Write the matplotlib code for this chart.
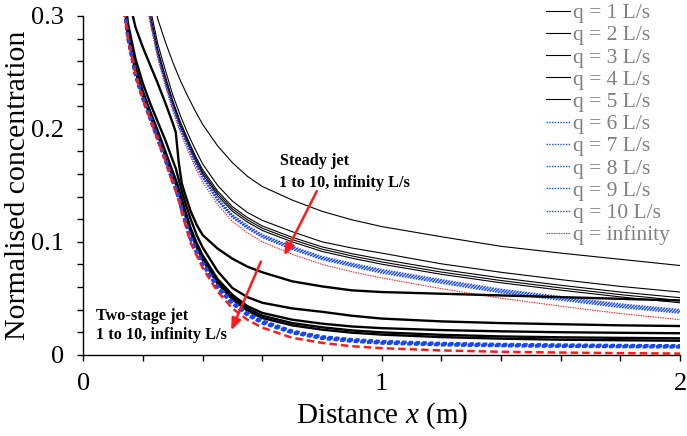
import matplotlib
matplotlib.use("Agg")
import matplotlib.pyplot as plt
from matplotlib.ticker import MultipleLocator, FixedLocator, FixedFormatter

plt.rcParams['font.family'] = ['Liberation Serif', 'DejaVu Serif']
plt.rcParams['mathtext.fontset'] = 'custom'
plt.rcParams['mathtext.rm'] = 'Liberation Serif'
plt.rcParams['mathtext.it'] = 'Liberation Serif:italic'

# ---------------- data ----------------
# Steady jet (thin lines)
x_steady = [0.15, 0.175, 0.2, 0.225, 0.25, 0.275, 0.3, 0.325, 0.35, 0.375, 0.4, 0.45,
            0.5, 0.55, 0.6, 0.7, 0.8, 0.9, 1.0, 1.2, 1.4, 1.6, 1.8, 2.0]
steady_q1 = [0.545, 0.44, 0.37, 0.325, 0.297, 0.277, 0.259, 0.243, 0.229, 0.216, 0.204, 0.185,
             0.170, 0.158, 0.149, 0.137, 0.127, 0.1195, 0.1135, 0.1045, 0.096, 0.090, 0.0845, 0.079]
steady_q2 = [0.53, 0.421, 0.347, 0.306, 0.275, 0.252, 0.230, 0.212, 0.196, 0.182, 0.169, 0.150,
             0.136, 0.126, 0.119, 0.109, 0.100, 0.0945, 0.090, 0.0805, 0.073, 0.0665, 0.0605, 0.0555]
steady_q3 = [0.526, 0.4165, 0.342, 0.3005, 0.270, 0.2465, 0.225, 0.2065, 0.191, 0.1765, 0.164, 0.145,
             0.131, 0.1215, 0.114, 0.104, 0.0955, 0.0895, 0.0845, 0.0755, 0.068, 0.0615, 0.0555, 0.0505]
steady_q4 = [0.524, 0.4145, 0.340, 0.2985, 0.268, 0.2445, 0.223, 0.2045, 0.189, 0.1745, 0.162, 0.143,
             0.129, 0.1195, 0.112, 0.102, 0.0935, 0.0875, 0.0822, 0.0732, 0.0657, 0.0592, 0.0532, 0.048]
steady_q5 = [0.522, 0.4125, 0.338, 0.2965, 0.266, 0.2425, 0.221, 0.2025, 0.187, 0.1725, 0.160, 0.141,
             0.127, 0.1175, 0.110, 0.100, 0.0915, 0.0855, 0.0802, 0.0712, 0.0637, 0.0572, 0.0512, 0.046]
steady_q6 = [0.523, 0.413, 0.3385, 0.2965, 0.266, 0.242, 0.2205, 0.2015, 0.186, 0.171, 0.1585, 0.139,
             0.124, 0.1145, 0.1065, 0.096, 0.087, 0.081, 0.0755, 0.0665, 0.058, 0.0515, 0.045, 0.040]
steady_q7 = [0.5225, 0.4125, 0.338, 0.296, 0.2655, 0.2415, 0.220, 0.201, 0.1855, 0.1705, 0.158, 0.1383,
             0.1233, 0.1138, 0.1058, 0.0953, 0.0863, 0.0803, 0.0747, 0.0657, 0.0572, 0.0507, 0.0442, 0.0392]
steady_q8 = [0.522, 0.412, 0.3375, 0.2955, 0.265, 0.241, 0.2195, 0.2005, 0.185, 0.170, 0.1575, 0.1376,
             0.1226, 0.1131, 0.1051, 0.0946, 0.0856, 0.0796, 0.0739, 0.0649, 0.0564, 0.0499, 0.0434, 0.0384]
steady_q9 = [0.5215, 0.4115, 0.337, 0.295, 0.2645, 0.2405, 0.219, 0.200, 0.1845, 0.1695, 0.157, 0.1369,
             0.1219, 0.1124, 0.1044, 0.0939, 0.0849, 0.0789, 0.0731, 0.0641, 0.0556, 0.0491, 0.0426, 0.0376]
steady_q10 = [0.521, 0.411, 0.3365, 0.2945, 0.264, 0.240, 0.2185, 0.1995, 0.184, 0.169, 0.1565, 0.1362,
              0.1212, 0.1117, 0.1037, 0.0932, 0.0842, 0.0782, 0.0723, 0.0633, 0.0548, 0.0483, 0.0418, 0.0368]
steady_inf = [0.52, 0.41, 0.335, 0.293, 0.262, 0.238, 0.216, 0.197, 0.181, 0.166, 0.153, 0.133,
              0.118, 0.108, 0.100, 0.089, 0.080, 0.0735, 0.068, 0.0585, 0.050, 0.043, 0.0365, 0.031]

# Two-stage jet (thick lines)
x_two = [0.1, 0.125, 0.15, 0.175, 0.2, 0.225, 0.25, 0.275, 0.3, 0.31, 0.32, 0.33, 0.34, 0.36, 0.38,
         0.4, 0.45, 0.5, 0.55, 0.6, 0.7, 0.8, 0.9, 1.0, 1.2, 1.4, 1.6, 1.8, 2.0]
two_q1 = [0.45, 0.37, 0.318, 0.29, 0.272, 0.256, 0.24, 0.223, 0.205, 0.197, 0.17, 0.152, 0.143, 0.127, 0.115,
          0.106, 0.094, 0.085, 0.078, 0.073, 0.065, 0.0605, 0.057, 0.0555, 0.054, 0.0525, 0.051, 0.0495, 0.048]
two_q2 = [0.44, 0.35, 0.293, 0.262, 0.24, 0.222, 0.206, 0.19, 0.172, 0.165, 0.155, 0.145, 0.136, 0.12, 0.106,
          0.095, 0.074, 0.059, 0.051, 0.046, 0.041, 0.038, 0.0345, 0.032, 0.0295, 0.028, 0.027, 0.026, 0.0254]
two_q3 = [0.435, 0.34, 0.287, 0.255, 0.233, 0.215, 0.198, 0.18, 0.162, 0.155, 0.147, 0.138, 0.129, 0.112, 0.099,
          0.088, 0.067, 0.053, 0.043, 0.037, 0.031, 0.0275, 0.025, 0.0235, 0.0218, 0.0207, 0.0199, 0.0194, 0.019]
two_q4 = [0.433, 0.338, 0.285, 0.253, 0.231, 0.213, 0.196, 0.178, 0.16, 0.153, 0.145, 0.136, 0.127, 0.11, 0.097,
          0.086, 0.065, 0.051, 0.041, 0.0345, 0.028, 0.0243, 0.0215, 0.0198, 0.0176, 0.0162, 0.0154, 0.0149, 0.0145]
two_q5 = [0.431, 0.336, 0.283, 0.251, 0.229, 0.211, 0.194, 0.176, 0.158, 0.151, 0.143, 0.134, 0.125, 0.108, 0.095,
          0.084, 0.063, 0.049, 0.039, 0.0325, 0.026, 0.0222, 0.0195, 0.0178, 0.0156, 0.0142, 0.0133, 0.0128, 0.0124]
two_q6 = [0.428, 0.334, 0.281, 0.249, 0.228, 0.210, 0.192, 0.174, 0.155, 0.148, 0.140, 0.130, 0.121, 0.104, 0.092,
          0.082, 0.061, 0.047, 0.037, 0.030, 0.021, 0.016, 0.0135, 0.0118, 0.0101, 0.0092, 0.0087, 0.0083, 0.0080]
two_q7 = [0.427, 0.333, 0.2805, 0.2485, 0.2275, 0.2095, 0.1915, 0.1735, 0.1545, 0.1475, 0.1395, 0.1295, 0.1205,
          0.1035, 0.0915, 0.0815, 0.0605, 0.0465, 0.0365, 0.0295, 0.0206, 0.0156, 0.0131, 0.0114, 0.0097, 0.0088,
          0.0083, 0.0079, 0.0077]
two_q8 = [0.426, 0.332, 0.280, 0.248, 0.227, 0.209, 0.191, 0.173, 0.154, 0.147, 0.139, 0.129, 0.120, 0.103, 0.091,
          0.081, 0.060, 0.046, 0.036, 0.029, 0.0202, 0.0152, 0.0127, 0.0110, 0.0093, 0.0085, 0.0080, 0.0076, 0.0074]
two_q9 = [0.425, 0.331, 0.2795, 0.2475, 0.2265, 0.2085, 0.1905, 0.1725, 0.1535, 0.1465, 0.1385, 0.1285, 0.1195,
          0.1025, 0.0905, 0.0805, 0.0595, 0.0455, 0.0355, 0.0285, 0.0198, 0.0148, 0.0123, 0.0106, 0.0090, 0.0082,
          0.0077, 0.0073, 0.0071]
two_q10 = [0.424, 0.330, 0.279, 0.247, 0.226, 0.208, 0.190, 0.172, 0.153, 0.146, 0.138, 0.128, 0.119, 0.102, 0.090,
           0.080, 0.059, 0.045, 0.035, 0.028, 0.0194, 0.0144, 0.0119, 0.0102, 0.0087, 0.0079, 0.0074, 0.0070, 0.0068]
two_inf = [0.42, 0.33, 0.28, 0.248, 0.226, 0.208, 0.19, 0.172, 0.152, 0.145, 0.137, 0.126, 0.117, 0.099, 0.088,
           0.077, 0.056, 0.041, 0.031, 0.024, 0.015, 0.0105, 0.0075, 0.0058, 0.0038, 0.0026, 0.0019, 0.0014, 0.001]

legend_labels = ["q = 1 L/s", "q = 2 L/s", "q = 3 L/s", "q = 4 L/s", "q = 5 L/s",
                 "q = 6 L/s", "q = 7 L/s", "q = 8 L/s", "q = 9 L/s", "q = 10 L/s", "q = infinity"]
x_ticks = [0, 1, 2]
x_ticklabels = ["0", "1", "2"]
y_ticks = [0, 0.1, 0.2, 0.3]
y_ticklabels = ["0", "0.1", "0.2", "0.3"]

# ---------------- styles ----------------
BLACK = "#000000"
BLUE = "#1446FF"
RED = "#FF1A1A"

fig = plt.figure(figsize=(6.87, 4.36), dpi=100)
ax = fig.add_axes([83.3 / 687, 1 - 354.7 / 436, (680 - 83.3) / 687, (354.7 - 16) / 436])

steady_black = [steady_q1, steady_q2, steady_q3, steady_q4, steady_q5]
steady_blue = [steady_q6, steady_q7, steady_q8, steady_q9, steady_q10]
two_black = [two_q1, two_q2, two_q3, two_q4, two_q5]
two_blue = [two_q6, two_q7, two_q8, two_q9, two_q10]

handles = []
for ys in steady_black:
    h, = ax.plot(x_steady, ys, color=BLACK, lw=0.8, solid_joinstyle='round')
    handles.append(h)
for ys in steady_blue:
    h, = ax.plot(x_steady, ys, color=BLUE, lw=1.0, linestyle=(0, (1, 1)))
    handles.append(h)
h, = ax.plot(x_steady, steady_inf, color=RED, lw=0.8, linestyle=(0, (1.2, 1)))
handles.append(h)

for ys in two_black:
    ax.plot(x_two, ys, color=BLACK, lw=1.7, solid_joinstyle='round')
for ys in two_blue:
    ax.plot(x_two, ys, color=BLUE, lw=2.2, linestyle=(0, (1.3, 0.9)))
ax.plot(x_two, two_inf, color=RED, lw=1.8, linestyle=(0, (3, 1.6)))

ax.set_xlim(0, 2)
ax.set_ylim(0, 0.3)
for s in ["top", "right"]:
    ax.spines[s].set_visible(False)
for s in ["left", "bottom"]:
    ax.spines[s].set_linewidth(1.0)

ax.xaxis.set_major_locator(FixedLocator(x_ticks))
ax.xaxis.set_major_formatter(FixedFormatter(x_ticklabels))
ax.xaxis.set_minor_locator(MultipleLocator(0.2))
ax.yaxis.set_major_locator(FixedLocator(y_ticks))
ax.yaxis.set_major_formatter(FixedFormatter(y_ticklabels))
ax.yaxis.set_minor_locator(MultipleLocator(0.02))
ax.tick_params(which='both', direction='out', length=4, width=1.0, labelsize=19, colors='black')
ax.tick_params(axis='x', pad=9)
ax.tick_params(axis='y', pad=10)

ax.set_xlabel("Distance $\\mathit{x}$ (m)", fontsize=21, labelpad=4)
ax.set_ylabel("Normalised concentration", fontsize=21.5, labelpad=0)

# annotations
ax.text(0.66, 0.172, "Steady jet", fontsize=11.7, fontweight='bold', va='center', ha='left')
ax.text(0.655, 0.1525, "1 to 10, infinity L/s", fontsize=11.7, fontweight='bold', va='center', ha='left')
ax.annotate("", xy=(0.669, 0.0856), xytext=(0.787, 0.147),
            arrowprops=dict(arrowstyle='-|>,head_length=0.7,head_width=0.28', color=RED, lw=1.8))
ax.text(0.043, 0.0342, "Two-stage jet", fontsize=11.7, fontweight='bold', va='center', ha='left')
ax.text(0.043, 0.0174, "1 to 10, infinity L/s", fontsize=11.7, fontweight='bold', va='center', ha='left')
ax.annotate("", xy=(0.492, 0.0192), xytext=(0.599, 0.0847),
            arrowprops=dict(arrowstyle='-|>,head_length=0.7,head_width=0.28', color=RED, lw=1.8))

leg = fig.legend(handles, legend_labels, loc='upper left', bbox_to_anchor=(546 / 687, 1 - 3 / 436),
                 frameon=False, fontsize=15.5, handlelength=1.1, handletextpad=0.15,
                 labelspacing=0.10, borderpad=0.0, borderaxespad=0.0)
for t in leg.get_texts():
    t.set_color('#808080')

fig.savefig("out.png", dpi=100)
